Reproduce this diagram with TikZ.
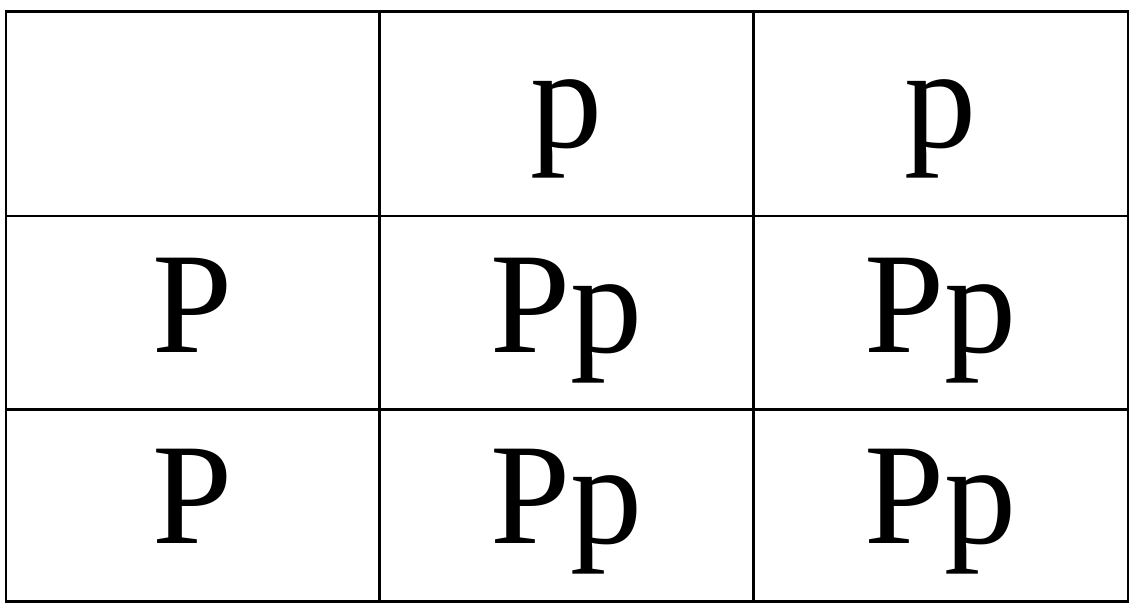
\documentclass[tikz,border=0pt]{standalone}
\usepackage{fontspec}
\setmainfont{LiberationSerif}[Extension=.ttf, UprightFont=*-Regular, BoldFont=*-Bold]
\begin{document}
\begin{tikzpicture}
    \tikzstyle{every node}=[font=\fontsize{41}{49}\selectfont, inner sep=0pt, anchor=base]
    \tikzset{
        grid/.style={draw, line width=0.8pt}
        }
    \useasboundingbox (0,0) rectangle (11.35,6.10);

    %table lines
    \draw [grid] (0.06,0.085) rectangle (11.28,5.985);
    \draw [grid] (3.795,0.085) -- (3.795,5.985);
    \draw [grid] (7.535,0.085) -- (7.535,5.985);
    \draw [grid] (0.06,3.94) -- (11.28,3.94);
    \draw [grid] (0.06,2.005) -- (11.28,2.005);

    %header
    \node (top1) at (5.665,4.62) {p};
    \node (top2) at (9.4075,4.62) {p};

    %row 1
    \node (left1) at (1.9275,2.57) {P};
    \node (cell11) at (5.665,2.57) {Pp};
    \node (cell12) at (9.4075,2.57) {Pp};

    %row 2
    \node (left2) at (1.9275,0.66) {P};
    \node (cell21) at (5.665,0.66) {Pp};
    \node (cell22) at (9.4075,0.66) {Pp};
\end{tikzpicture}
\end{document}
